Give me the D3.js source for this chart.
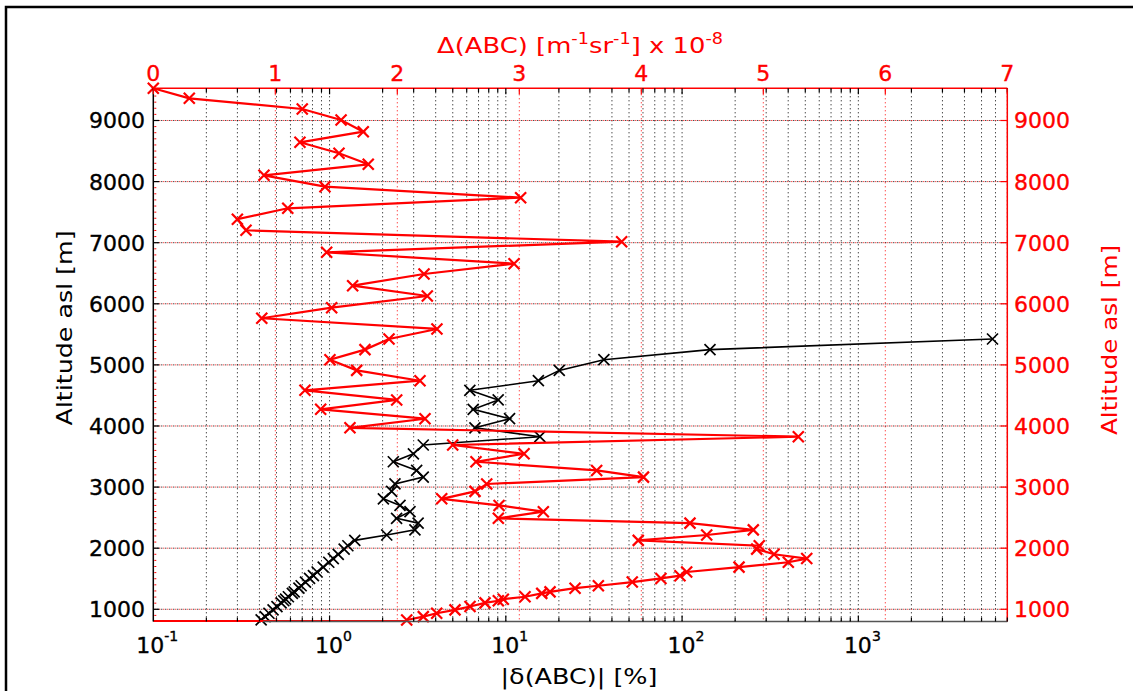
<!DOCTYPE html>
<html><head><meta charset="utf-8">
<script src="https://cdn.jsdelivr.net/npm/d3@7"></script>
<style>body{margin:0;background:#fff}svg{display:block}text{font-family:"DejaVu Sans",sans-serif}</style>
</head><body><svg id="c" width="1133" height="691"></svg>
<script>
// Altitude levels (m asl), shared by both profiles
const altitude = [9527,9363,9188,9008,8817,8643,8463,8283,8103,7917,
  7737,7563,7383,7203,7016,6843,6656,6488,6296,6128,
  5936,5763,5588,5424,5250,5085,4910,4741,4584,4426,
  4273,4119,3970,3825,3689,3545,3415,3272,3163,3051,
  2930,2808,2700,2597,2489,2410,2300,2216,2128,2040,
  1985,1900,1830,1770,1690,1610,1550,1505,1445,1385,
  1345,1285,1260,1205,1165,1140,1105,1045,990,935,
  880,825];
// Δ(ABC) [m^-1 sr^-1] x 1e-8 (red, top linear axis)
const deltaABC = [0.00,0.295,1.221,1.539,1.721,1.202,1.522,1.762,0.907,1.407,
  3.011,1.102,0.689,0.760,3.839,1.421,2.957,2.219,1.634,2.246,
  1.462,0.889,2.325,1.932,1.735,1.448,1.667,2.186,1.243,1.995,
  1.372,2.227,1.612,5.287,2.454,3.039,2.645,3.634,4.018,2.733,
  2.637,2.364,2.834,3.197,2.828,4.399,4.918,4.536,3.975,4.967,
  4.946,5.088,5.356,5.205,4.801,4.372,4.317,4.161,3.926,3.648,
  3.457,3.252,3.184,3.047,2.869,2.828,2.719,2.596,2.473,2.323,
  2.213,2.077];
// |δ(ABC)| [%] (black, bottom log axis); null where not available
const relDelta = [null,null,null,null,null,null,null,null,null,null,
  null,null,null,null,null,null,null,null,null,null,
  null,null,null,5770,144,36.0,20.1,15.3,6.25,9.05,
  6.53,10.5,6.68,15.6,3.40,2.99,2.30,3.12,3.40,2.35,
  2.25,2.02,2.51,2.86,2.40,3.18,3.05,2.11,1.39,1.27,
  1.21,1.12,1.05,0.99,0.92,0.85,0.81,0.77,0.73,0.69,
  0.67,0.63,0.615,0.584,0.563,0.55,0.531,0.503,0.478,0.453,
  0.431,0.409];
const altTicks = [1000,2000,3000,4000,5000,6000,7000,8000,9000];
const topTicks = [0,1,2,3,4,5,6,7];
const logMajor = [0.1,1,10,100,1000];
const logExp = ["-1","0","1","2","3"];

const svg = d3.select("#c");
const L=153.3, R=1007.3, T=88.3, B=621.5;
const xLog = d3.scaleLog().domain([0.1,7000]).range([L,R]);
const xTop = d3.scaleLinear().domain([0,7]).range([L,R]);
const y = d3.scaleLinear().domain([800,9527]).range([B,T]);
const RED="#ff0000";

// outer frame
svg.append("path").attr("d",`M6,691 L6,7 L1133,7`).attr("fill","none").attr("stroke","#000").attr("stroke-width",2.5);

const logAll=[];
for(let e=-1;e<=3;e++){for(let m=1;m<=9;m++){const v=m*Math.pow(10,e); if(v<=7000) logAll.push(v);}}
const g=svg.append("g");
g.selectAll(".vg").data(logAll.filter(v=>v>0.1)).join("line")
 .attr("x1",d=>xLog(d)).attr("x2",d=>xLog(d)).attr("y1",T).attr("y2",B)
 .attr("stroke","#000").attr("stroke-width",1).attr("stroke-dasharray","1,3");
g.selectAll(".vr").data(topTicks.filter(v=>v>0&&v<7)).join("line")
 .attr("x1",d=>xTop(d)).attr("x2",d=>xTop(d)).attr("y1",T).attr("y2",B)
 .attr("stroke",RED).attr("stroke-width",1).attr("stroke-dasharray","1,3").attr("stroke-dashoffset",2);
g.selectAll(".hg").data(altTicks).join("line")
 .attr("x1",L).attr("x2",R).attr("y1",d=>y(d)).attr("y2",d=>y(d))
 .attr("stroke","#000").attr("stroke-width",1).attr("stroke-dasharray","1,3");
g.selectAll(".hr").data(altTicks).join("line")
 .attr("x1",L).attr("x2",R).attr("y1",d=>y(d)).attr("y2",d=>y(d))
 .attr("stroke",RED).attr("stroke-width",1).attr("stroke-dasharray","1,3").attr("stroke-dashoffset",2);

// black series
const blk = altitude.map((a,i)=>({a,v:relDelta[i]})).filter(d=>d.v!=null);
svg.append("path").datum(blk).attr("fill","none").attr("stroke","#000").attr("stroke-width",1.6)
 .attr("d",d3.line().x(d=>xLog(d.v)).y(d=>y(d.a)));
const mk=(sel,color,w)=>sel.append("path").attr("fill","none").attr("stroke",color).attr("stroke-width",w)
 .attr("d","M-5.5,-5.5L5.5,5.5M-5.5,5.5L5.5,-5.5");
svg.selectAll(".bm").data(blk).join("g").attr("transform",d=>`translate(${xLog(d.v)},${y(d.a)})`)
 .each(function(){mk(d3.select(this),"#000",1.7);});

// red series
const red = altitude.map((a,i)=>({a,v:deltaABC[i]}));
svg.append("path").datum(red).attr("fill","none").attr("stroke",RED).attr("stroke-width",2.2)
 .attr("d",d3.line().x(d=>xTop(d.v)).y(d=>y(d.a)));
svg.append("line").attr("x1",xTop(0)).attr("x2",xTop(deltaABC[deltaABC.length-1])).attr("y1",y(800)-0.5).attr("y2",y(800)-0.5)
 .attr("stroke",RED).attr("stroke-width",2.2);
svg.selectAll(".rm").data(red).join("g").attr("transform",d=>`translate(${xTop(d.v)},${y(d.a)})`)
 .each(function(){mk(d3.select(this),RED,2.2);});

// axes lines
svg.append("line").attr("x1",L).attr("x2",L).attr("y1",T).attr("y2",B).attr("stroke","#000").attr("stroke-width",1.5);
svg.append("line").attr("x1",R).attr("x2",R).attr("y1",T).attr("y2",B).attr("stroke",RED).attr("stroke-width",1.5);
svg.append("line").attr("x1",L).attr("x2",R).attr("y1",T).attr("y2",T).attr("stroke",RED).attr("stroke-width",1.5);
svg.append("line").attr("x1",xLog(0.42)).attr("x2",R).attr("y1",B).attr("y2",B).attr("stroke","#555").attr("stroke-width",1.5);

svg.selectAll(".bt").data(logAll.filter(v=>v>0.1)).join("line")
 .attr("x1",d=>xLog(d)).attr("x2",d=>xLog(d)).attr("y1",B).attr("y2",d=>logMajor.includes(d)?B-6:B-4)
 .attr("stroke","#000").attr("stroke-width",1.2);
svg.selectAll(".tt").data(logAll.filter(v=>v>0.1)).join("line")
 .attr("x1",d=>xLog(d)).attr("x2",d=>xLog(d)).attr("y1",T).attr("y2",d=>logMajor.includes(d)?T+6:T+4)
 .attr("stroke","#000").attr("stroke-width",1.2);
svg.selectAll(".tr").data(topTicks).join("line")
 .attr("x1",d=>xTop(d)).attr("x2",d=>xTop(d)).attr("y1",T).attr("y2",T+6)
 .attr("stroke",RED).attr("stroke-width",1.2);
svg.selectAll(".lt").data(altTicks).join("line").attr("x1",L).attr("x2",L+6).attr("y1",d=>y(d)).attr("y2",d=>y(d)).attr("stroke","#000").attr("stroke-width",1.2);
svg.selectAll(".rt").data(altTicks).join("line").attr("x1",R).attr("x2",R-7).attr("y1",d=>y(d)).attr("y2",d=>y(d)).attr("stroke",RED).attr("stroke-width",1.2);
svg.selectAll(".lm").data(d3.range(900,9527,100).filter(v=>v%1000!==0)).join("line")
 .attr("x1",L+1).attr("x2",L+3).attr("y1",d=>y(d)).attr("y2",d=>y(d)).attr("stroke",RED).attr("stroke-width",1);

// tick labels
const fs=22;
svg.selectAll(".ll").data(altTicks).join("text").attr("x",145).attr("y",d=>y(d)+8).attr("text-anchor","end")
 .attr("font-size",fs).attr("fill","#000").attr("stroke","#000").attr("stroke-width",0.35).text(d=>d);
svg.selectAll(".rl").data(altTicks).join("text").attr("x",1014).attr("y",d=>y(d)+8).attr("text-anchor","start")
 .attr("font-size",fs).attr("fill",RED).attr("stroke",RED).attr("stroke-width",0.35).text(d=>d);
svg.selectAll(".tl").data(topTicks).join("text").attr("x",d=>xTop(d)).attr("y",81).attr("text-anchor","middle")
 .attr("font-size",fs).attr("fill",RED).attr("stroke",RED).attr("stroke-width",0.35).text(d=>d);
const bl = svg.selectAll(".bl").data(logMajor).join("text").attr("x",(d,i)=>xLog(d)+4).attr("y",653).attr("text-anchor","middle")
 .attr("font-size",fs).attr("fill","#000").attr("stroke","#000").attr("stroke-width",0.35);
bl.append("tspan").text("10");
bl.append("tspan").attr("dy",-12).attr("font-size",14).text((d,i)=>logExp[i]);

// axis titles (wide rendering like the source)
const tt = svg.append("text").attr("x",580).attr("y",53).attr("text-anchor","middle").attr("font-size",22).attr("fill",RED)
 .attr("textLength",286).attr("lengthAdjust","spacingAndGlyphs");
tt.append("tspan").text("\u0394(ABC) [m");
tt.append("tspan").attr("dy",-9).attr("font-size",15).text("-1");
tt.append("tspan").attr("dy",9).text("sr");
tt.append("tspan").attr("dy",-9).attr("font-size",15).text("-1");
tt.append("tspan").attr("dy",9).text("] x 10");
tt.append("tspan").attr("dy",-9).attr("font-size",15).text("-8");
svg.append("text").attr("x",579).attr("y",684).attr("text-anchor","middle").attr("font-size",22).attr("fill","#000")
 .attr("textLength",157).attr("lengthAdjust","spacingAndGlyphs").text("|\u03b4(ABC)| [%]");
svg.append("text").attr("transform","translate(72,328) rotate(-90)").attr("text-anchor","middle").attr("font-size",22).attr("fill","#000")
 .attr("textLength",195).attr("lengthAdjust","spacingAndGlyphs").text("Altitude asl [m]");
svg.append("text").attr("transform","translate(1117,340) rotate(-90)").attr("text-anchor","middle").attr("font-size",22).attr("fill",RED)
 .attr("textLength",190).attr("lengthAdjust","spacingAndGlyphs").text("Altitude asl [m]");
</script></body></html>
